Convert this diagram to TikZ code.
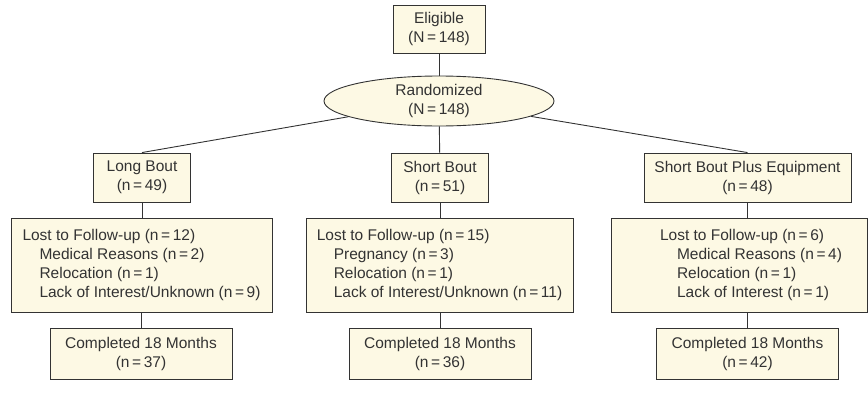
\documentclass[tikz,border=0pt]{standalone}
\usepackage{fontspec}
\setmainfont{Liberation Sans}
\usepackage{tikz}
\usetikzlibrary{shapes.geometric,positioning}
\definecolor{cream}{HTML}{FDF9E4}
\definecolor{ink}{HTML}{333333}

\begin{document}
\begin{tikzpicture}[x=1pt,y=-1pt,
        box/.style={draw=ink,fill=cream,line width=0.9pt,text=ink,align=center,
            inner sep=0pt,font=\fontsize{15.5}{19}\selectfont},
        oval/.style={box,ellipse,minimum width=230pt,minimum height=50pt},
        armbox/.style={box,minimum height=49pt},
        lostbox/.style={box,align=left,minimum height=94pt},
        donebox/.style={box,minimum width=182pt,minimum height=51pt},
        link/.style={draw=ink,line width=0.9pt}]
    \useasboundingbox (0,0) rectangle (868,394);

    \node[box,minimum width=92pt,minimum height=48pt] (elig) at (439,29) {Eligible\\(N\,=\,148)};
    \node[oval] (rand) at (439,101) {Randomized\\(N\,=\,148)};

    \node[armbox,minimum width=97pt]  (long)  at (142,177.5) {Long Bout\\(n\,=\,49)};
    \node[armbox,minimum width=97pt]  (short) at (440,177.5) {Short Bout\\(n\,=\,51)};
    \node[armbox,minimum width=207pt] (equip) at (747.5,177.5) {Short Bout Plus Equipment\\(n\,=\,48)};

    \node[lostbox,minimum width=261pt] (lostlong) at (141.5,265) {Lost to Follow-up (n\,=\,12)\\
        \hspace*{17pt}Medical Reasons (n\,=\,2)\\
        \hspace*{17pt}Relocation (n\,=\,1)\\
        \hspace*{17pt}Lack of Interest/Unknown (n\,=\,9)};
    \node[lostbox,minimum width=267pt] (lostshort) at (439.5,265) {Lost to Follow-up (n\,=\,15)\\
        \hspace*{17pt}Pregnancy (n\,=\,3)\\
        \hspace*{17pt}Relocation (n\,=\,1)\\
        \hspace*{17pt}Lack of Interest/Unknown (n\,=\,11)};
    \node[lostbox,minimum width=256pt] (lostequip) at (739,265) {\hspace*{24pt}Lost to Follow-up (n\,=\,6)\\
        \hspace*{41pt}Medical Reasons (n\,=\,4)\\
        \hspace*{41pt}Relocation (n\,=\,1)\\
        \hspace*{41pt}Lack of Interest (n\,=\,1)};

    \node[donebox] (donelong)  at (141,353.5)   {Completed 18 Months\\(n\,=\,37)};
    \node[donebox] (doneshort) at (440,353.5)   {Completed 18 Months\\(n\,=\,36)};
    \node[donebox] (doneequip) at (747.5,353.5) {Completed 18 Months\\(n\,=\,42)};

    \draw[link] (elig) -- (rand);
    \draw[link] (rand) -- (long.north);
    \draw[link] (rand) -- (short);
    \draw[link] (rand) -- (equip.north);

    \draw[link] (long.south) -- (long.south |- lostlong.north);
    \draw[link] (short.south) -- (short.south |- lostshort.north);
    \draw[link] (equip.south) -- (equip.south |- lostequip.north);

    \draw[link] (donelong.north |- lostlong.south) -- (donelong.north);
    \draw[link] (doneshort.north |- lostshort.south) -- (doneshort.north);
    \draw[link] (doneequip.north |- lostequip.south) -- (doneequip.north);
\end{tikzpicture}
\end{document}
